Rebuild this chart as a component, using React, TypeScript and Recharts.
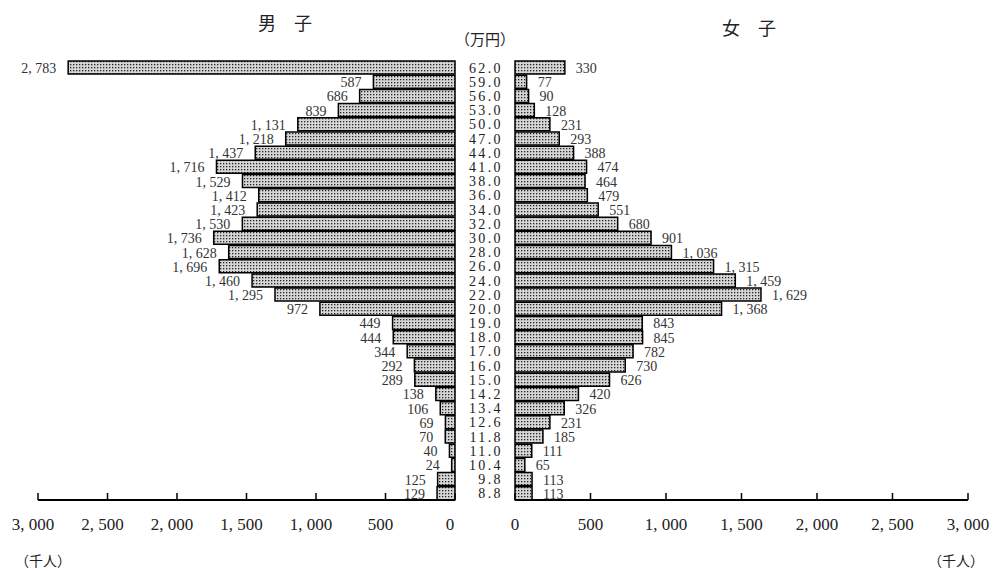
import { BarChart, Bar, XAxis, YAxis, LabelList } from 'recharts'

const incomeLevels = [
  '62.0', '59.0', '56.0', '53.0', '50.0', '47.0', '44.0', '41.0', '38.0', '36.0',
  '34.0', '32.0', '30.0', '28.0', '26.0', '24.0', '22.0', '20.0', '19.0', '18.0',
  '17.0', '16.0', '15.0', '14.2', '13.4', '12.6', '11.8', '11.0', '10.4', '9.8', '8.8',
]
const maleCounts = [
  2783, 587, 686, 839, 1131, 1218, 1437, 1716, 1529, 1412,
  1423, 1530, 1736, 1628, 1696, 1460, 1295, 972, 449, 444,
  344, 292, 289, 138, 106, 69, 70, 40, 24, 125, 129,
]
const femaleCounts = [
  330, 77, 90, 128, 231, 293, 388, 474, 464, 479,
  551, 680, 901, 1036, 1315, 1459, 1629, 1368, 843, 845,
  782, 730, 626, 420, 326, 231, 185, 111, 65, 113, 113,
]
const axisTicks = [0, 500, 1000, 1500, 2000, 2500, 3000]

const rows = incomeLevels.map((level, i) => ({
  level,
  male: maleCounts[i],
  female: femaleCounts[i],
}))

const SERIF = '"Liberation Serif", "DejaVu Serif", serif'
const CJK = '"Noto Sans CJK JP", sans-serif'

const fmt = (v: number) => v.toLocaleString('en-US').replace(',', ', ')

const DotPattern = ({ id }: { id: string }) => (
  <defs>
    <pattern id={id} patternUnits="userSpaceOnUse" width={3} height={3}>
      <rect width={3} height={3} fill="#d6d6d6" />
      <rect x={1} y={1} width={1.3} height={1.3} fill="#222" />
    </pattern>
  </defs>
)

const makeAxisTick = (shift: number) => (props: any) => {
  const { x, y, payload } = props
  return (
    <g>
      <line x1={x} x2={x} y1={y - 7} y2={y} stroke="#000" strokeWidth={1.5} />
      <text
        x={x + shift}
        y={y + 24}
        textAnchor="middle"
        dominantBaseline="central"
        fontFamily={SERIF}
        fontSize={17}
        fill="#222"
      >
        {fmt(payload.value)}
      </text>
    </g>
  )
}

const CategoryTick = (props: any) => {
  const { x, y, payload } = props
  return (
    <text
      x={x - 12}
      y={y + 1}
      textAnchor="end"
      dominantBaseline="central"
      fontFamily={SERIF}
      fontSize={14}
      letterSpacing={2.4}
      fill="#222"
    >
      {payload.value}
    </text>
  )
}

const maleLabel = (props: any) => {
  const { x, y, width, height, value } = props
  const left = Math.min(x, x + width)
  return (
    <text
      x={left - 12}
      y={y + height / 2 + 1}
      textAnchor="end"
      dominantBaseline="central"
      fontFamily={SERIF}
      fontSize={14}
      fill="#333"
    >
      {fmt(value)}
    </text>
  )
}

const femaleLabel = (props: any) => {
  const { x, y, width, height, value } = props
  const right = Math.max(x, x + width)
  return (
    <text
      x={right + 11}
      y={y + height / 2 + 1}
      textAnchor="start"
      dominantBaseline="central"
      fontFamily={SERIF}
      fontSize={14}
      fill="#333"
    >
      {fmt(value)}
    </text>
  )
}

export default function App() {
  return (
    <div style={{ position: 'relative', width: 994, height: 572, background: '#fff' }}>
      <style>{'body{margin:0}'}</style>

      <div style={{ position: 'absolute', left: 0, top: 0 }}>
        <BarChart
          layout="vertical"
          width={480}
          height={572}
          data={rows}
          margin={{ top: 60, right: 25, left: 38, bottom: 0 }}
          barSize={13}
        >
          <DotPattern id="dotsMale" />
          <XAxis
            type="number"
            domain={[0, 3000]}
            ticks={axisTicks}
            interval={0}
            reversed
            height={72}
            axisLine={{ stroke: '#000', strokeWidth: 2 }}
            tickLine={false}
            tickSize={0}
            tickMargin={0}
            tick={makeAxisTick(-5)}
          />
          <YAxis type="category" dataKey="level" hide />
          <Bar
            dataKey="male"
            fill="url(#dotsMale)"
            stroke="#000"
            strokeWidth={1.5}
            isAnimationActive={false}
          >
            <LabelList dataKey="male" content={maleLabel} />
          </Bar>
        </BarChart>
      </div>

      <div style={{ position: 'absolute', left: 460, top: 0 }}>
        <BarChart
          layout="vertical"
          width={534}
          height={572}
          data={rows}
          margin={{ top: 60, right: 26, left: 0, bottom: 0 }}
          barSize={13}
        >
          <DotPattern id="dotsFemale" />
          <XAxis
            type="number"
            domain={[0, 3000]}
            ticks={axisTicks}
            interval={0}
            height={72}
            axisLine={{ stroke: '#000', strokeWidth: 2 }}
            tickLine={false}
            tickSize={0}
            tickMargin={0}
            tick={makeAxisTick(0)}
          />
          <YAxis
            type="category"
            dataKey="level"
            width={55}
            interval={0}
            axisLine={false}
            tickLine={false}
            tickSize={0}
            tickMargin={0}
            tick={<CategoryTick />}
          />
          <Bar
            dataKey="female"
            fill="url(#dotsFemale)"
            stroke="#000"
            strokeWidth={1.5}
            isAnimationActive={false}
          >
            <LabelList dataKey="female" content={femaleLabel} />
          </Bar>
        </BarChart>
      </div>

      <svg
        width={994}
        height={572}
        style={{ position: 'absolute', left: 0, top: 0, pointerEvents: 'none' }}
      >
        <g fontFamily={CJK} fill="#222" dominantBaseline="central">
          <text x={285} y={22} fontSize={18} textAnchor="middle">男　子</text>
          <text x={749} y={27} fontSize={18} textAnchor="middle">女　子</text>
          <text x={485} y={38} fontSize={15} textAnchor="middle">（万円）</text>
          <text x={43} y={560} fontSize={14} textAnchor="middle">（千人）</text>
          <text x={956} y={560} fontSize={14} textAnchor="middle">（千人）</text>
        </g>
      </svg>
    </div>
  )
}
